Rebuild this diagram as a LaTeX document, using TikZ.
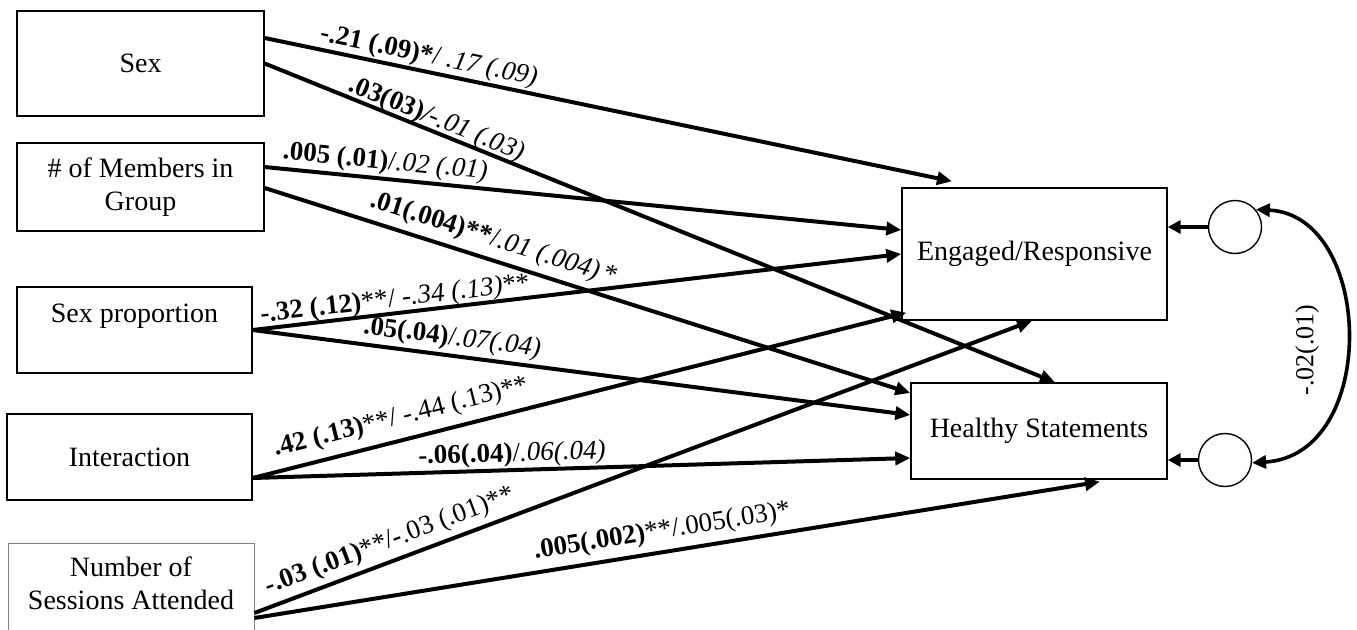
\documentclass[tikz,border=0pt]{standalone}
\usepackage{fontspec}
\setmainfont{Liberation Serif}
\usetikzlibrary{arrows.meta,calc}
\begin{document}
\begin{tikzpicture}[x=1pt,y=-1pt,
  box/.style={draw, line width=1.4pt, align=center, font=\fontsize{28}{33}\selectfont, inner sep=0pt},
  arr/.style={line width=4pt, -{Triangle[length=15pt,width=13pt]}},
  lab/.style={sloped, inner sep=1pt, font=\fontsize{27}{30}\selectfont},
  err/.style={draw, circle, line width=1.4pt, minimum size=53pt, inner sep=0pt}]
\useasboundingbox (0,0) rectangle (1357,629);
% left boxes
\node[box, minimum width=247pt, minimum height=105pt] (sex) at (140.5,63.5) {Sex};
\node[box, minimum width=247pt, minimum height=88pt] (mem) at (140.5,187) {\# of Members in\\Group};
\node[box, minimum width=235pt, minimum height=86pt] (prop) at (134.5,330) {Sex proportion\\ \mbox{}};
\node[box, minimum width=245pt, minimum height=86pt] (inter) at (129.5,457) {Interaction};
\node[box, draw=gray, line width=0.8pt, minimum width=246pt, minimum height=114pt] (sess) at (131,600) {Number of\\Sessions Attended\\ \mbox{}};
% right boxes
\node[box, minimum width=265pt, minimum height=132pt] (eng) at (1034.5,254) {Engaged/Responsive};
\node[box, minimum width=256pt, minimum height=96pt] (heal) at (1039,431) {Healthy Statements};
% error terms
\node[err] (c1) at (1235,227) {};
\node[err] (c2) at (1225,460) {};
% paths
\draw[arr] ([yshift=25.5pt]sex.east) -- node[lab, pos=0.234, above=0pt]{\textbf{-.21 (.09)*}/ \textit{.17 (.09)}} ([xshift=-82.5pt,yshift=6pt]eng.north);
\draw[arr] (sex.east) -- node[lab, pos=0.212, above=-3pt]{\textbf{.03(03)}\textit{/-.01 (.03)}} ([xshift=16pt]heal.north);
\draw[arr] ([yshift=20pt]mem.east) -- node[lab, pos=0.187, above=1pt]{\textbf{.005 (.01)}/\textit{.02 (.01)}} ([yshift=24pt]eng.west);
\draw[arr] ([yshift=-1pt]mem.east) -- node[lab, pos=0.345, above=5pt]{\textbf{.01(.004)**}/\textit{.01 (.004)}\,*} ([yshift=38pt]heal.west);
\draw[arr] (prop.east) -- node[lab, pos=0.222, above=-2pt]{\textbf{-.32 (.12)}**/ \textit{-.34 (.13)}**} (eng.west);
\draw[arr] (prop.east) -- node[lab, pos=0.30, above=2pt]{\textbf{.05(.04)}/\textit{.07(.04)}} ([yshift=16pt]heal.west);
\draw[arr] ([yshift=-21pt]inter.east) -- node[lab, pos=0.235, above=7pt]{\textbf{.42 (.13)}**/ -.44 (.13)**} ([xshift=5pt,yshift=8pt]eng.south west);
\draw[arr] ([yshift=-21pt]inter.east) -- node[lab, pos=0.395, above=0pt]{\textbf{-.06(.04)}/\textit{.06(.04)}} ([yshift=-27pt]heal.west);
\draw[arr] ([yshift=-13pt]sess.east) -- node[lab, pos=0.183, above=4pt]{\textbf{-.03 (.01)}**/\textbf{-}.03 (.01)**} ([xshift=-2.5pt]eng.south);
\draw[arr] ([yshift=-18pt]sess.east) -- node[lab, pos=0.486, above=5pt]{\textbf{.005(.002)}**/.005(.03)*} ([xshift=61pt,yshift=-2pt]heal.south);
% error arrows
\draw[line width=4pt, -{Triangle[length=13pt,width=13pt]}] (c1.west) -- (c1.west -| eng.east);
\draw[line width=4pt, -{Triangle[length=13pt,width=13pt]}] (c2.west) -- (c2.west -| heal.east);
% covariance
\draw[line width=3.6pt, {Triangle[length=14pt,width=13pt]}-{Triangle[length=14pt,width=13pt]}] (c1.40) .. controls (1374,215) and (1380,455) .. (c2.-6);
\node[rotate=90, inner sep=0pt, font=\fontsize{26}{30}\selectfont] (cov) at (1307,350) {-.02(.01)};
\end{tikzpicture}
\end{document}
